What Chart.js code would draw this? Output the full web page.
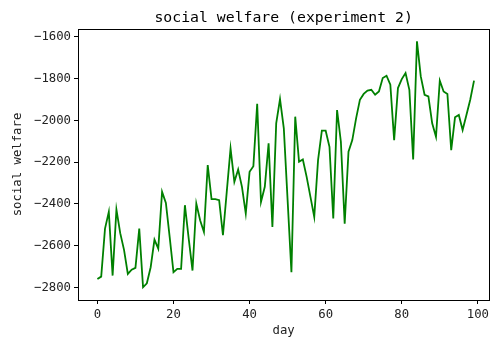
<!DOCTYPE html>
<html>
<head>
<meta charset="utf-8">
<script src="https://cdn.jsdelivr.net/npm/chart.js@4.4.1/dist/chart.umd.min.js"></script>
<style>
    html, body { margin: 0; padding: 0; background: #fff; }
    #wrap { width: 492px; height: 338px; position: relative; }
</style>
</head>
<body>
<div id="wrap"><canvas id="myChart"></canvas></div>
<script>
const welfare = [
    -2760, -2748, -2518, -2438, -2743, -2427, -2540, -2620, -2735, -2715,
    -2706, -2518, -2799, -2780, -2703, -2571, -2614, -2342, -2395, -2559,
    -2727, -2711, -2711, -2406, -2566, -2719, -2398, -2478, -2534, -2214,
    -2377, -2377, -2382, -2550, -2342, -2134, -2294, -2235, -2318, -2446,
    -2246, -2219, -1920, -2390, -2318, -2110, -2510, -2014, -1898, -2038,
    -2383, -2727, -1982, -2198, -2187, -2270, -2366, -2462, -2190, -2049,
    -2049, -2126, -2470, -1950, -2102, -2494, -2150, -2094, -1990, -1901,
    -1873, -1857, -1853, -1877, -1861, -1797, -1786, -1829, -2094, -1845,
    -1802, -1773, -1853, -2187, -1621, -1789, -1877, -1885, -2014, -2078,
    -1809, -1861, -1873, -2142, -1985, -1974, -2046, -1974, -1901, -1809
];
const days = welfare.map((v, i) => i);
const xTicks = [0, 20, 40, 60, 80, 100];
const yTicks = [-2800, -2600, -2400, -2200, -2000, -1800, -1600];

const FONT = 'DejaVu Sans Mono';

// cadre noir autour de la zone du graphique + titre
const framePlugin = {
    id: 'frame',
    afterDraw(chart) {
        const a = chart.chartArea;
        const ctx = chart.ctx;
        ctx.save();
        ctx.strokeStyle = '#000';
        ctx.lineWidth = 1;
        ctx.strokeRect(Math.round(a.left) + 0.5, Math.round(a.top) + 0.5,
            Math.round(a.right - a.left), Math.round(a.bottom - a.top));
        ctx.fillStyle = '#000';
        ctx.font = '14.8px ' + FONT;
        ctx.textAlign = 'center';
        ctx.textBaseline = 'middle';
        ctx.fillText('social welfare (experiment 2)', (a.left + a.right) / 2, 18);
        ctx.restore();
    }
};

function fmt(v) {
    return String(v).replace('-', '\u2212');
}

let ctx = document.getElementById('myChart').getContext('2d');
new Chart(ctx, {
    type: 'line',
    data: {
        datasets: [{
            data: days.map((d, i) => ({ x: d, y: welfare[i] })),
            borderColor: '#008000',
            borderWidth: 1.8,
            pointRadius: 0,
            tension: 0,
            fill: false
        }]
    },
    options: {
        responsive: true,
        maintainAspectRatio: false,
        animation: false,
        layout: { padding: { top: 29, right: 2, left: 0, bottom: 0 } },
        plugins: {
            legend: { display: false },
            tooltip: { enabled: false }
        },
        scales: {
            x: {
                type: 'linear',
                min: -5.1,
                max: 103,
                afterBuildTicks: s => { s.ticks = xTicks.map(v => ({ value: v })); },
                afterFit: s => { s.height = 38; },
                grid: { drawOnChartArea: false, drawTicks: true, tickLength: 4, color: '#000' },
                border: { display: false },
                ticks: { color: '#222', font: { family: FONT, size: 12.3 }, padding: 3, maxRotation: 0, callback: fmt },
                title: { display: true, text: 'day', color: '#222', font: { family: FONT, size: 12.3 }, padding: 0 }
            },
            y: {
                min: -2860,
                max: -1562,
                afterBuildTicks: s => { s.ticks = yTicks.map(v => ({ value: v })); },
                afterFit: s => { s.width = 78; },
                grid: { drawOnChartArea: false, drawTicks: true, tickLength: 4, color: '#000' },
                border: { display: false },
                ticks: { color: '#222', font: { family: FONT, size: 12.3 }, padding: 3, callback: fmt },
                title: { display: true, text: 'social welfare', color: '#222', font: { family: FONT, size: 12.3 }, padding: { top: 10, bottom: 0 } }
            }
        }
    },
    plugins: [framePlugin]
});
</script>
</body>
</html>
